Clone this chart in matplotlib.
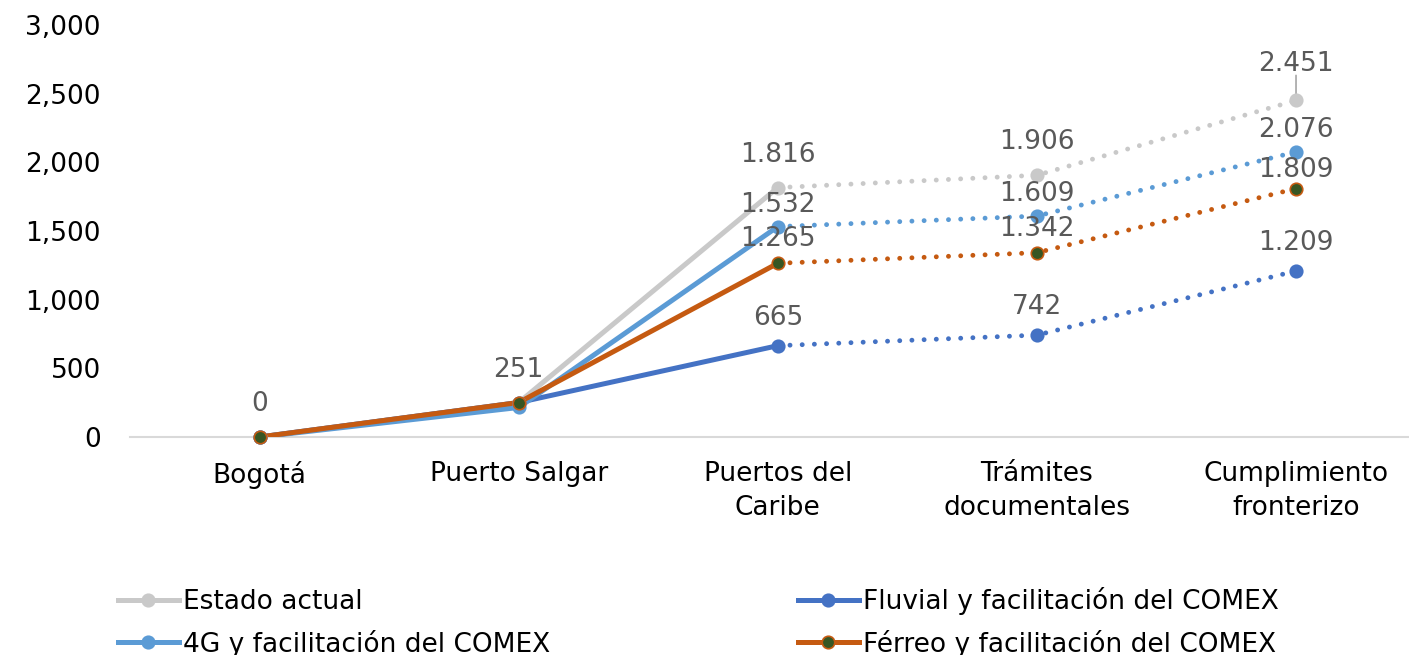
import matplotlib
matplotlib.use("Agg")
import matplotlib.pyplot as plt
from matplotlib.lines import Line2D
from matplotlib.ticker import FuncFormatter

plt.rcParams["font.family"] = ["DejaVu Sans"]

categorias = ["Bogotá", "Puerto Salgar", "Puertos del\nCaribe", "Trámites\ndocumentales", "Cumplimiento\nfronterizo"]

estado_actual = [0, 251, 1816, 1906, 2451]
fluvial = [0, 251, 665, 742, 1209]
cuatro_g = [0, 215, 1532, 1609, 2076]
ferreo = [0, 251, 1265, 1342, 1809]

series = [
    ("Estado actual", estado_actual, "#C9C9C9", "#C9C9C9"),
    ("Fluvial y facilitación del COMEX", fluvial, "#4472C4", "#4472C4"),
    ("4G y facilitación del COMEX", cuatro_g, "#5B9BD5", "#5B9BD5"),
    ("Férreo y facilitación del COMEX", ferreo, "#C55A11", "#375623"),
]

# qué puntos llevan etiqueta (índice de serie -> índices de categoría)
etiquetas = {0: [0, 1, 2, 3, 4], 1: [2, 3, 4], 2: [2, 3, 4], 3: [2, 3, 4]}
desplaz = {0: 33, 1: 28, 2: 22, 3: 24}

FS = 19

fig = plt.figure(figsize=(14.09, 6.55), dpi=100)
ax = fig.add_axes([130 / 1409, (655 - 437) / 655, (1409 - 130) / 1409, (437 - 25) / 655])

x = list(range(len(categorias)))
handles = []
for i, (nombre, vals, color, relleno) in enumerate(series):
    # tramo real (sólido) y proyección (punteado)
    ax.plot(x[:3], vals[:3], color=color, lw=3.6, solid_capstyle="round", zorder=2 + i)
    ax.plot(x[2:], vals[2:], color=color, lw=3.5, ls=(0, (0.01, 2.5)),
            dash_capstyle="round", zorder=2 + i)
    ax.plot(x, vals, ls="none", marker="o", ms=9, mfc=relleno, mec=color, mew=1.2,
            zorder=6 + i, clip_on=False)
    handles.append(Line2D([], [], color=color, lw=3.6, marker="o", ms=9,
                          mfc=relleno, mec=color, mew=1.2, label=nombre))

for i, idxs in etiquetas.items():
    vals = series[i][1]
    for j in idxs:
        off = desplaz[i]
        if i == 3 and j == 4:
            off = 19
        if i == 0 and j == 4:
            off = 36
        ax.annotate(f"{vals[j]:,}".replace(",", "."), (x[j], vals[j]),
                    xytext=(0, off * 72 / 100), textcoords="offset points",
                    ha="center", va="center", fontsize=FS, color="#595959", zorder=20)

# línea guía de la etiqueta 2.451
ax.annotate("", (x[4], estado_actual[4]), xytext=(0, 25 * 72 / 100), textcoords="offset points",
            arrowprops=dict(arrowstyle="-", color="#A6A6A6", lw=1.2, shrinkA=0, shrinkB=4))

ax.set_xlim(-0.5, 4.436)
ax.set_ylim(0, 3000)
ax.set_yticks(range(0, 3001, 500))
ax.yaxis.set_major_formatter(FuncFormatter(lambda v, p: f"{int(v):,}"))
ax.set_xticks(x)
ax.set_xticklabels(categorias, fontsize=FS, linespacing=1.4)
ax.tick_params(axis="y", length=0, labelsize=FS, pad=21)
ax.tick_params(axis="x", length=0, pad=17)

for s in ["top", "right", "left"]:
    ax.spines[s].set_visible(False)
ax.spines["bottom"].set_color("#D9D9D9")
ax.spines["bottom"].set_linewidth(1.5)

orden = [handles[0], handles[2], handles[1], handles[3]]
fig.legend(handles=orden, loc="upper left", bbox_to_anchor=(118 / 1409, 1 - 587 / 655),
           ncol=2, frameon=False, fontsize=FS, handlelength=2.3, handletextpad=0.15,
           columnspacing=9.4, labelspacing=0.55, borderaxespad=0, borderpad=0)

fig.savefig("out.png", dpi=100)
